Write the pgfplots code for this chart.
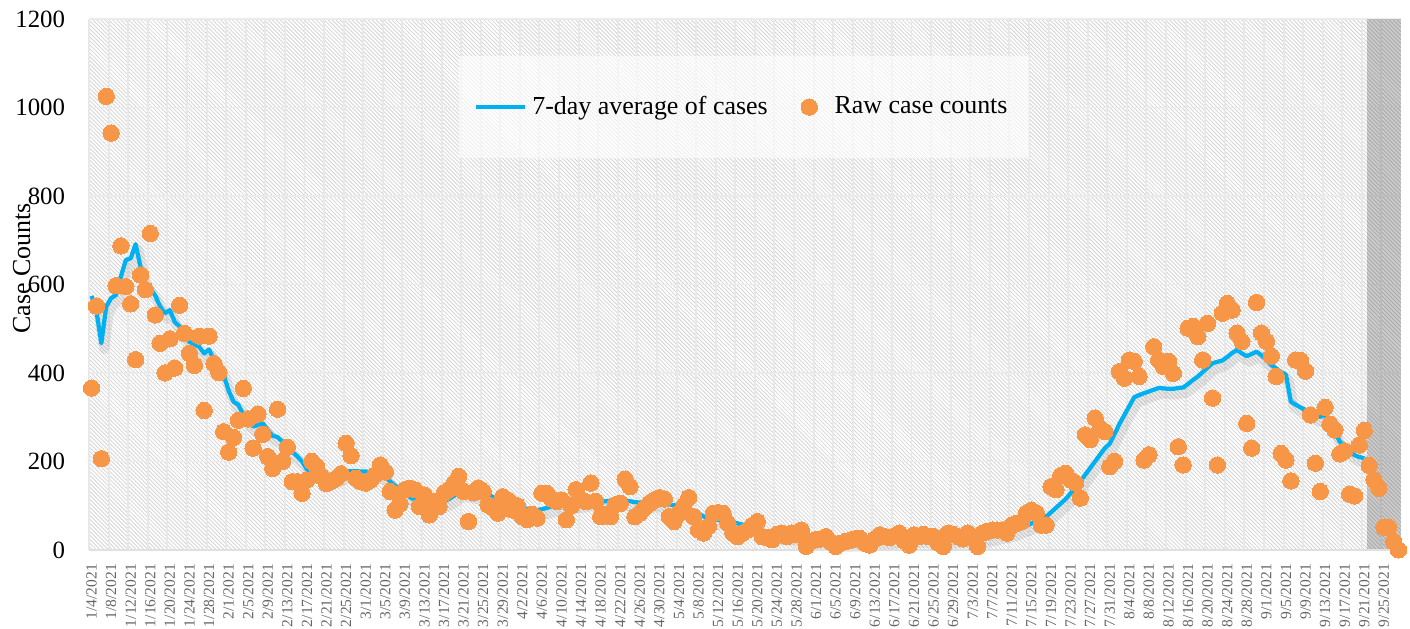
\documentclass[border=0pt]{standalone}
\usepackage{fontspec}
\setmainfont{Liberation Serif}
\usepackage{pgfplots}
\pgfplotsset{compat=1.18}
\usepackage{pgfplotstable}
\usetikzlibrary{patterns.meta}
\definecolor{cblue}{RGB}{0,176,240}
\definecolor{corange}{RGB}{247,150,70}
\pgfplotsset{dotlegend/.style={legend image code/.code={\draw[##1] plot coordinates {(0pt,0pt)}; \path[draw=none,fill=none] (-2.9pt,0pt) (7pt,0pt);}}}

\pgfplotstableread[row sep=\\]{
d v\\
0 366\\ 1 551\\ 2 206\\ 3 1025\\ 4 942\\ 5 597\\ 6 687\\ 7 595\\ 8 556\\ 9 430\\
10 621\\ 11 588\\ 12 715\\ 13 531\\ 14 467\\ 15 400\\ 16 477\\ 17 411\\ 18 553\\ 19 489\\
20 444\\ 21 417\\ 22 483\\ 23 315\\ 24 483\\ 25 421\\ 26 401\\ 27 267\\ 28 221\\ 29 254\\
30 293\\ 31 365\\ 32 296\\ 33 230\\ 34 307\\ 35 261\\ 36 211\\ 37 184\\ 38 318\\ 39 200\\
40 232\\ 41 154\\ 42 154\\ 43 128\\ 44 158\\ 45 200\\ 46 188\\ 47 166\\ 48 150\\ 49 155\\
50 162\\ 51 172\\ 52 241\\ 53 213\\ 54 162\\ 55 154\\ 56 151\\ 57 158\\ 58 170\\ 59 192\\
60 176\\ 61 132\\ 62 90\\ 63 104\\ 64 136\\ 65 139\\ 66 136\\ 67 98\\ 68 124\\ 69 79\\
70 109\\ 71 98\\ 72 128\\ 73 136\\ 74 150\\ 75 166\\ 76 132\\ 77 64\\ 78 129\\ 79 140\\
80 132\\ 81 102\\ 82 95\\ 83 83\\ 84 120\\ 85 113\\ 86 90\\ 87 100\\ 88 75\\ 89 68\\
90 80\\ 91 72\\ 92 128\\ 93 128\\ 94 115\\ 95 109\\ 96 113\\ 97 68\\ 98 100\\ 99 136\\
100 113\\ 101 109\\ 102 151\\ 103 110\\ 104 75\\ 105 80\\ 106 75\\ 107 102\\ 108 105\\ 109 160\\
110 143\\ 111 75\\ 112 83\\ 113 95\\ 114 105\\ 115 113\\ 116 118\\ 117 115\\ 118 75\\ 119 64\\
120 83\\ 121 100\\ 122 118\\ 123 75\\ 124 45\\ 125 38\\ 126 53\\ 127 83\\ 128 84\\ 129 83\\
130 60\\ 131 38\\ 132 30\\ 133 38\\ 134 45\\ 135 55\\ 136 64\\ 137 30\\ 138 28\\ 139 23\\
140 35\\ 141 38\\ 142 30\\ 143 38\\ 144 35\\ 145 45\\ 146 8\\ 147 20\\ 148 23\\ 149 25\\
150 30\\ 151 18\\ 152 8\\ 153 15\\ 154 19\\ 155 22\\ 156 25\\ 157 26\\ 158 15\\ 159 11\\
160 25\\ 161 34\\ 162 30\\ 163 28\\ 164 32\\ 165 38\\ 166 20\\ 167 11\\ 168 34\\ 169 30\\
170 35\\ 171 30\\ 172 30\\ 173 15\\ 174 8\\ 175 38\\ 176 35\\ 177 30\\ 178 25\\ 179 38\\
180 30\\ 181 8\\ 182 38\\ 183 42\\ 184 45\\ 185 45\\ 186 45\\ 187 38\\ 188 56\\ 189 60\\
190 64\\ 191 83\\ 192 90\\ 193 83\\ 194 56\\ 195 56\\ 196 143\\ 197 136\\ 198 168\\ 199 173\\
200 158\\ 201 151\\ 202 117\\ 203 260\\ 204 249\\ 205 298\\ 206 275\\ 207 267\\ 208 188\\ 209 200\\
210 403\\ 211 388\\ 212 429\\ 213 426\\ 214 392\\ 215 203\\ 216 215\\ 217 459\\ 218 429\\ 219 414\\
220 426\\ 221 399\\ 222 233\\ 223 192\\ 224 501\\ 225 505\\ 226 482\\ 227 429\\ 228 512\\ 229 343\\
230 192\\ 231 535\\ 232 557\\ 233 542\\ 234 490\\ 235 471\\ 236 286\\ 237 230\\ 238 559\\ 239 490\\
240 471\\ 241 438\\ 242 392\\ 243 218\\ 244 203\\ 245 156\\ 246 429\\ 247 428\\ 248 404\\ 249 305\\
250 196\\ 251 132\\ 252 322\\ 253 284\\ 254 271\\ 255 217\\ 256 224\\ 257 126\\ 258 122\\ 259 237\\
260 270\\ 261 191\\ 262 158\\ 263 139\\ 264 51\\ 265 51\\ 266 19\\ 267 0\\
}\raw

\pgfplotstableread[row sep=\\]{
d v\\
0 574\\ 1 540\\ 2 467\\ 3 550\\ 4 569\\ 5 576\\ 6 618\\ 7 655\\ 8 659\\ 9 691\\
10 640\\ 11 603\\ 12 591\\ 13 575\\ 14 550\\ 15 535\\ 16 542\\ 17 515\\ 18 505\\ 19 482\\
20 470\\ 21 465\\ 22 459\\ 23 444\\ 24 453\\ 25 430\\ 26 414\\ 27 395\\ 28 360\\ 29 335\\
30 328\\ 31 305\\ 32 290\\ 33 279\\ 34 282\\ 35 286\\ 36 270\\ 37 258\\ 38 255\\ 39 245\\
40 233\\ 41 222\\ 42 212\\ 43 200\\ 44 182\\ 45 175\\ 46 172\\ 47 170\\ 48 165\\ 49 162\\
50 165\\ 51 170\\ 52 177\\ 53 178\\ 54 178\\ 55 177\\ 56 177\\ 57 176\\ 58 175\\ 59 173\\
60 165\\ 61 155\\ 62 145\\ 63 136\\ 64 128\\ 65 120\\ 66 113\\ 67 108\\ 68 104\\ 69 100\\
70 98\\ 71 104\\ 72 110\\ 73 115\\ 74 122\\ 75 130\\ 76 133\\ 77 130\\ 78 128\\ 79 127\\
80 126\\ 81 124\\ 82 120\\ 83 116\\ 84 113\\ 85 110\\ 86 106\\ 87 102\\ 88 97\\ 89 92\\
90 90\\ 91 90\\ 92 92\\ 93 95\\ 94 98\\ 95 100\\ 96 102\\ 97 104\\ 98 105\\ 99 107\\
100 108\\ 101 110\\ 102 112\\ 103 112\\ 104 111\\ 105 110\\ 106 110\\ 107 109\\ 108 110\\ 109 112\\
110 110\\ 111 108\\ 112 107\\ 113 107\\ 114 108\\ 115 108\\ 116 107\\ 117 105\\ 118 103\\ 119 101\\
120 98\\ 121 95\\ 122 92\\ 123 88\\ 124 82\\ 125 76\\ 126 72\\ 127 70\\ 128 68\\ 129 66\\
130 63\\ 131 61\\ 132 60\\ 133 57\\ 134 54\\ 135 50\\ 136 46\\ 137 42\\ 138 40\\ 139 38\\
140 36\\ 141 35\\ 142 34\\ 143 33\\ 144 32\\ 145 31\\ 146 28\\ 147 26\\ 148 24\\ 149 23\\
150 22\\ 151 21\\ 152 20\\ 153 19\\ 154 19\\ 155 20\\ 156 20\\ 157 21\\ 158 21\\ 159 22\\
160 23\\ 161 24\\ 162 25\\ 163 26\\ 164 27\\ 165 28\\ 166 28\\ 167 28\\ 168 28\\ 169 28\\
170 28\\ 171 28\\ 172 27\\ 173 26\\ 174 26\\ 175 27\\ 176 27\\ 177 28\\ 178 28\\ 179 29\\
180 29\\ 181 28\\ 182 29\\ 183 31\\ 184 33\\ 185 36\\ 186 38\\ 187 40\\ 188 43\\ 189 47\\
190 52\\ 191 55\\ 192 60\\ 193 65\\ 194 70\\ 195 75\\ 196 85\\ 197 95\\ 198 105\\ 199 115\\
200 128\\ 201 140\\ 202 155\\ 203 170\\ 204 185\\ 205 200\\ 206 215\\ 207 230\\ 208 240\\ 209 262\\
210 285\\ 211 305\\ 212 325\\ 213 345\\ 214 350\\ 215 354\\ 216 358\\ 217 362\\ 218 366\\ 219 365\\
220 364\\ 221 364\\ 222 366\\ 223 367\\ 224 375\\ 225 384\\ 226 392\\ 227 402\\ 228 412\\ 229 422\\
230 425\\ 231 428\\ 232 436\\ 233 445\\ 234 452\\ 235 444\\ 236 438\\ 237 443\\ 238 448\\ 239 440\\
240 430\\ 241 418\\ 242 410\\ 243 402\\ 244 396\\ 245 335\\ 246 328\\ 247 322\\ 248 316\\ 249 310\\
250 303\\ 251 301\\ 252 305\\ 253 290\\ 254 265\\ 255 245\\ 256 232\\ 257 222\\ 258 214\\ 259 210\\
260 207\\
}\avg

\begin{document}
\begin{tikzpicture}
\begin{axis}[
  scale only axis,
  width=465.2pt, height=188.3pt,
  xmin=-0.5, xmax=267.5, ymin=0, ymax=1200,
  clip=false,
  ytick={0,200,400,600,800,1000,1200},
  yticklabels={0,200,400,600,800,1000,1200},
  xtick={0,4,...,264},
  xticklabels={1/4/2021,1/8/2021,1/12/2021,1/16/2021,1/20/2021,1/24/2021,1/28/2021,
    2/1/2021,2/5/2021,2/9/2021,2/13/2021,2/17/2021,2/21/2021,2/25/2021,
    3/1/2021,3/5/2021,3/9/2021,3/13/2021,3/17/2021,3/21/2021,3/25/2021,3/29/2021,
    4/2/2021,4/6/2021,4/10/2021,4/14/2021,4/18/2021,4/22/2021,4/26/2021,4/30/2021,
    5/4/2021,5/8/2021,5/12/2021,5/16/2021,5/20/2021,5/24/2021,5/28/2021,
    6/1/2021,6/5/2021,6/9/2021,6/13/2021,6/17/2021,6/21/2021,6/25/2021,6/29/2021,
    7/3/2021,7/7/2021,7/11/2021,7/15/2021,7/19/2021,7/23/2021,7/27/2021,7/31/2021,
    8/4/2021,8/8/2021,8/12/2021,8/16/2021,8/20/2021,8/24/2021,8/28/2021,
    9/1/2021,9/5/2021,9/9/2021,9/13/2021,9/17/2021,9/21/2021,9/25/2021},
  minor xtick={-0.5,3.5,...,263.5},
  xminorgrids=true, ymajorgrids=true,
  major grid style={black!8, line width=0.6pt},
  minor grid style={black!9, line width=0.7pt},
  major tick length=0pt, minor tick length=0pt,
  axis line style={draw=none},
  axis background/.style={fill=white, postaction={pattern={Lines[angle=-45,distance=1pt,line width=0.3pt]}, pattern color=black!17}},
  xticklabel style={rotate=90, anchor=east, font=\fontsize{5.5}{6.5}\selectfont, text=black!60},
  xticklabel shift=1.5pt,
  yticklabel style={font=\fontsize{8.8}{10}\selectfont},
  yticklabel shift=5pt,
  ylabel={Case Counts},
  ylabel style={font=\fontsize{9.2}{10}\selectfont, at={(axis description cs:-0.0515,0.53)}, anchor=center},
  legend columns=2,
  legend style={at={(0.499,0.834)}, anchor=center, draw=none, fill=white, fill opacity=0.6, text opacity=1,
    inner xsep=5.5pt, inner ysep=12pt, font=\fontsize{9.2}{10}\selectfont,
    /tikz/every even column/.append style={column sep=9.8pt}},
  legend image post style={opacity=1},
]
\addplot[black, opacity=0.08, line width=3.5pt, line join=round, xshift=1pt, yshift=-2pt, forget plot] table[x=d,y=v]{\avg};
\addplot[cblue, line width=1.5pt, line join=round] table[x=d,y=v]{\avg};
\addlegendentry{7-day average of cases}
\addplot[only marks, mark=*, mark size=2.9pt, color=corange, mark options={fill=corange, draw=corange, line width=0pt}, dotlegend] table[x=d,y=v]{\raw};
\addlegendentry{Raw case counts}
\fill[black, opacity=0.2] (axis cs:260.5,0) rectangle (axis cs:267.5,1200);
\draw[black!12, line width=0.8pt] (rel axis cs:0,0) -- (rel axis cs:1,0);
\end{axis}
\path (current axis.south west) ++(-31.6pt,-28pt) coordinate (bbA);
\path (current axis.north east) ++(3.2pt,6.7pt) coordinate (bbB);
\pgfresetboundingbox
\path (bbA) rectangle (bbB);
\end{tikzpicture}
\end{document}
